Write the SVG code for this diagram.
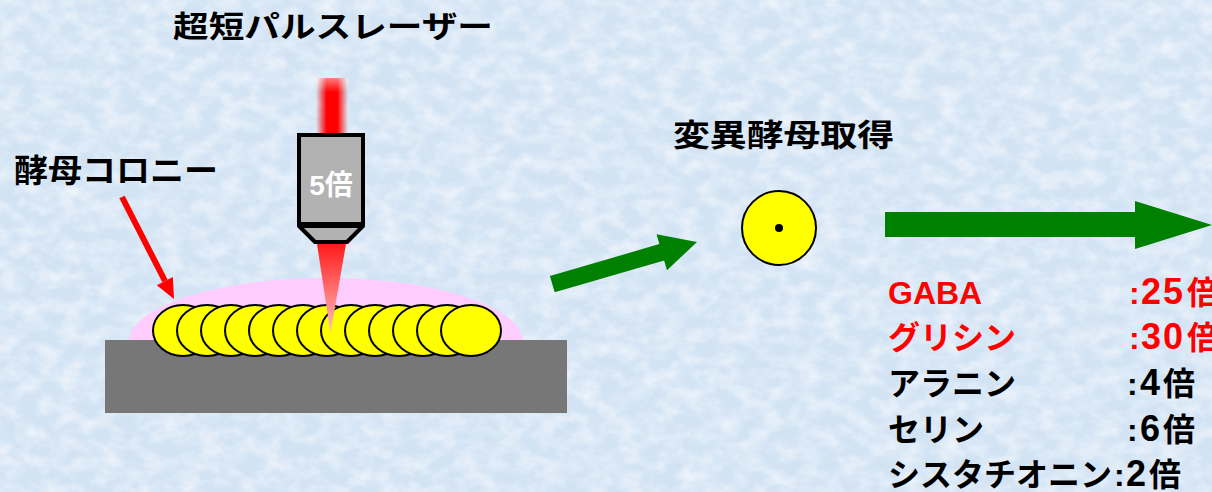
<svg xmlns="http://www.w3.org/2000/svg" width="1212" height="492" viewBox="0 0 1212 492">
  <style>
    .jp { font-family: "Liberation Sans", "Noto Sans CJK JP", sans-serif; font-weight: bold; }
    .blk { fill: #000000; }
    .red { fill: #ff0000; }
    .num { font-size: 36px; }
    .cell { fill: #ffff00; stroke: #000000; stroke-width: 2; }
    .arrow-green { fill: #008000; }
  </style>
  <defs>
    <!-- soft tissue-paper texture for the backdrop -->
    <filter id="paper" filterUnits="userSpaceOnUse" x="0" y="0" width="1212" height="492">
      <feTurbulence type="fractalNoise" baseFrequency="0.05 0.07" numOctaves="4" seed="7" result="n"/>
      <feColorMatrix in="n" type="matrix" values="0 0 0 0 1  0 0 0 0 1  0 0 0 0 1  1.1 0 0 0 -0.38"/>
    </filter>
    <linearGradient id="beam" x1="0" y1="0" x2="1" y2="0">
      <stop offset="0" stop-color="#ff0000" stop-opacity="0"/>
      <stop offset="0.33" stop-color="#ff0000" stop-opacity="1"/>
      <stop offset="0.67" stop-color="#ff0000" stop-opacity="1"/>
      <stop offset="1" stop-color="#ff0000" stop-opacity="0"/>
    </linearGradient>
    <linearGradient id="beamTop" x1="0" y1="0" x2="0" y2="1">
      <stop offset="0" stop-color="#ffffff" stop-opacity="0.5"/>
      <stop offset="0.25" stop-color="#ffffff" stop-opacity="0"/>
    </linearGradient>
    <linearGradient id="cone" x1="0" y1="0" x2="0" y2="1">
      <stop offset="0" stop-color="#ff1a1a"/>
      <stop offset="1" stop-color="#ffc0c0"/>
    </linearGradient>
  </defs>

  <!-- backdrop -->
  <rect x="0" y="0" width="1212" height="492" fill="#d2e3f4"/>
  <rect x="0" y="0" width="1212" height="492" filter="url(#paper)"/>

  <g id="title">
    <text class="jp blk" x="173" y="37" font-size="30" textLength="320" lengthAdjust="spacingAndGlyphs">超短パルスレーザー</text>
  </g>

  <g id="colony-dish">
    <!-- medium dome and plate -->
    <ellipse cx="326" cy="342" rx="197" ry="64" fill="#ffccff"/>
    <rect x="105" y="340" width="462" height="73" fill="#777777"/>
    <!-- row of yeast cells, left to right -->
    <ellipse class="cell" cx="183" cy="330.5" rx="30" ry="25.5"/>
    <ellipse class="cell" cx="207" cy="330.5" rx="30" ry="25.5"/>
    <ellipse class="cell" cx="231" cy="330.5" rx="30" ry="25.5"/>
    <ellipse class="cell" cx="255" cy="330.5" rx="30" ry="25.5"/>
    <ellipse class="cell" cx="279" cy="330.5" rx="30" ry="25.5"/>
    <ellipse class="cell" cx="303" cy="330.5" rx="30" ry="25.5"/>
    <ellipse class="cell" cx="327" cy="330.5" rx="30" ry="25.5"/>
    <ellipse class="cell" cx="351" cy="330.5" rx="30" ry="25.5"/>
    <ellipse class="cell" cx="375" cy="330.5" rx="30" ry="25.5"/>
    <ellipse class="cell" cx="399" cy="330.5" rx="30" ry="25.5"/>
    <ellipse class="cell" cx="423" cy="330.5" rx="30" ry="25.5"/>
    <ellipse class="cell" cx="447" cy="330.5" rx="30" ry="25.5"/>
    <ellipse class="cell" cx="471" cy="330.5" rx="30" ry="25.5"/>
  </g>

  <g id="microscope">
    <!-- incoming pulse beam -->
    <rect x="316" y="78" width="32" height="57" fill="url(#beam)"/>
    <rect x="316" y="78" width="32" height="57" fill="url(#beamTop)"/>
    <!-- objective lens -->
    <rect x="299" y="135" width="64" height="89" fill="#b2b2b2" stroke="#000000" stroke-width="4"/>
    <polygon points="299,226 363,226 347,242 315,242" fill="#b2b2b2" stroke="#000000" stroke-width="4" stroke-linejoin="round"/>
    <text class="jp" x="331" y="195" font-size="28" fill="#ffffff" text-anchor="middle">5倍</text>
    <!-- focused beam -->
    <polygon points="317,244 346,244 330.5,333" fill="url(#cone)"/>
  </g>

  <g id="colony-label">
    <text class="jp blk" x="14" y="182" font-size="32" textLength="204" lengthAdjust="spacingAndGlyphs">酵母コロニー</text>
  </g>

  <g id="mutant">
    <text class="jp blk" x="673" y="146" font-size="31" textLength="221" lengthAdjust="spacingAndGlyphs">変異酵母取得</text>
    <circle cx="779" cy="228" r="37" fill="#ffff00" stroke="#000000" stroke-width="2"/>
    <circle cx="779" cy="228" r="4" fill="#000000"/>
  </g>

  <g id="results">
    <text class="jp red" x="888" y="304" font-size="32">GABA</text>
    <text class="jp red" y="304" font-size="32"><tspan x="1129">:</tspan><tspan class="num" x="1141">2</tspan><tspan class="num" x="1163">5</tspan><tspan x="1187">倍</tspan></text>
    <text class="jp red" x="888" y="349" font-size="32">グリシン</text>
    <text class="jp red" y="349" font-size="32"><tspan x="1129">:</tspan><tspan class="num" x="1141">3</tspan><tspan class="num" x="1163">0</tspan><tspan x="1187">倍</tspan></text>
    <text class="jp blk" x="888" y="395" font-size="32">アラニン</text>
    <text class="jp blk" y="395" font-size="32"><tspan x="1127">:</tspan><tspan class="num" x="1140">4</tspan><tspan x="1163">倍</tspan></text>
    <text class="jp blk" x="888" y="441" font-size="32">セリン</text>
    <text class="jp blk" y="441" font-size="32"><tspan x="1127">:</tspan><tspan class="num" x="1140">6</tspan><tspan x="1163">倍</tspan></text>
    <text class="jp blk" x="888" y="486" font-size="32">シスタチオニン</text>
    <text class="jp blk" y="486" font-size="32"><tspan x="1114">:</tspan><tspan class="num" x="1126">2</tspan><tspan x="1149">倍</tspan></text>
  </g>

  <g id="connectors">
    <!-- pointer to the colony -->
    <line x1="122" y1="197" x2="165" y2="281" stroke="#ff0000" stroke-width="6"/>
    <polygon points="174,299 172.8,277.1 156.8,285.3" fill="#ff0000"/>
    <!-- colony to mutant -->
    <polygon class="arrow-green" transform="translate(552.3,284.2) rotate(-16.26)" points="0,-8.5 114,-8.5 114,-18.7 150.7,0 114,18.7 114,8.5 0,8.5"/>
    <!-- mutant to results -->
    <polygon class="arrow-green" points="885,212 1135,212 1135,201 1212,225 1135,249 1135,237 885,237"/>
  </g>
</svg>
